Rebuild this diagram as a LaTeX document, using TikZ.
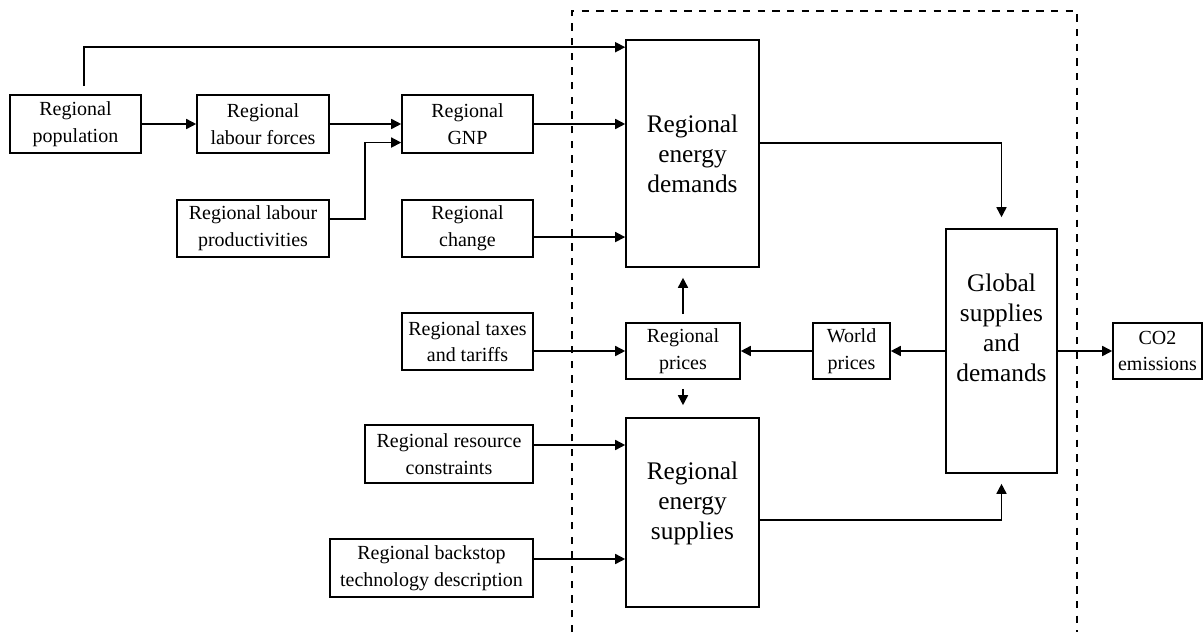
\documentclass[tikz,border=0pt]{standalone}
\usepackage{fontspec}
\setmainfont{Liberation Serif}
\usetikzlibrary{arrows.meta}
\begin{document}
\begin{tikzpicture}[x=0.75pt,y=-0.75pt,
  box/.style={draw,line width=1.2pt,inner sep=0pt,align=center,font=\fontsize{15}{20}\selectfont},
  sz/.style 2 args={minimum width={#1*0.75pt},minimum height={#2*0.75pt}},
  bigbox/.style={box,font=\fontsize{19}{22.5}\selectfont},
  bigtext/.style={inner sep=0pt,align=center,font=\fontsize{19}{22.5}\selectfont},
  arr/.style={line width=1.2pt,-{Triangle[length=7.5pt,width=7.5pt]}},
  dashline/.style={line width=1.2pt,dash pattern=on 5.5pt off 5.5pt}]
\useasboundingbox (0,0) rectangle (1203,632);
% boxes
\node[box,sz={131}{58}] (pop) at (75.5,124) {Regional\\population};
\node[box,sz={132}{58}] (lab) at (263,124) {Regional\\labour forces};
\node[box,sz={131}{58}] (gnp) at (467.5,124) {Regional\\GNP};
\node[box,sz={152}{57}] (prod) at (253,228.5) {Regional labour\\productivities};
\node[box,sz={131}{57}] (chg) at (467.5,228.5) {Regional\\change};
\node[bigbox,sz={133}{227}] (dem) at (692.5,153.5) {Regional\\energy\\demands};
\node[box,sz={131}{57}] (tax) at (467.5,341.5) {Regional taxes\\and tariffs};
\node[box,sz={114}{56}] (pri) at (683,351) {Regional\\prices};
\node[box,sz={168}{58}] (res) at (449,454) {Regional resource\\constraints};
\node[bigbox,sz={133}{189}] (sup) at (692.5,512.5) {};
\node[bigtext] (supt) at (692.5,503) {Regional\\energy\\supplies};
\node[box,sz={203}{58}] (back) at (431.5,568) {Regional backstop\\technology description};
\node[box,sz={77}{56}] (wor) at (851.5,351) {World\\prices};
\node[bigbox,sz={111}{244}] (glob) at (1001.5,351) {};
\node[bigtext] (globt) at (1001.5,328) {Global\\supplies\\and\\demands};
\node[box,sz={89}{56}] (co2) at (1157.5,351) {CO2\\emissions};
\coordinate (j) at (365,0);
% dashed region
\draw[dashline] (572,632) -- (572,11) -- (1077,11) -- (1077,632);
% connectors
\draw[arr,shorten <=6pt] ([xshift=6.4pt]pop.north) |- ([yshift=-6pt]dem.north west);
\draw[arr] (pop.east) -- (pop.east -| lab.west);
\draw[arr] (lab.east) -- (lab.east -| gnp.west);
\draw[arr] ([yshift=7pt]prod.east) -- ([yshift=7pt]prod.east -| j) |- ([yshift=-13.9pt]gnp.west);
\draw[arr] (gnp.east) -- (gnp.east -| dem.west);
\draw[arr] ([yshift=-6.4pt]chg.east) -- ([yshift=-6.4pt]chg.east -| dem.west);
\draw[arr,shorten >=8.25pt] ([yshift=7.9pt]dem.east) -| (glob.north);
\draw[arr,shorten <=6pt,shorten >=7.5pt] (pri.north) -- (pri.north |- dem.south);
\draw[arr,shorten <=6.75pt,shorten >=9pt] (pri.south) -- (pri.south |- sup.north);
\draw[arr] (pri.west -| tax.east) -- (pri.west);
\draw[arr] (wor.west) -- (pri.east);
\draw[arr] (glob.west) -- (glob.west -| wor.east);
\draw[arr] (glob.east) -- (glob.east -| co2.west);
\draw[arr] ([yshift=6.75pt]res.east) -- ([yshift=6.75pt]res.east -| sup.west);
\draw[arr] ([yshift=6.75pt]back.east) -- ([yshift=6.75pt]back.east -| sup.west);
\draw[arr,shorten >=7.5pt] ([yshift=-5.6pt]sup.east) -| (glob.south);
\end{tikzpicture}
\end{document}
